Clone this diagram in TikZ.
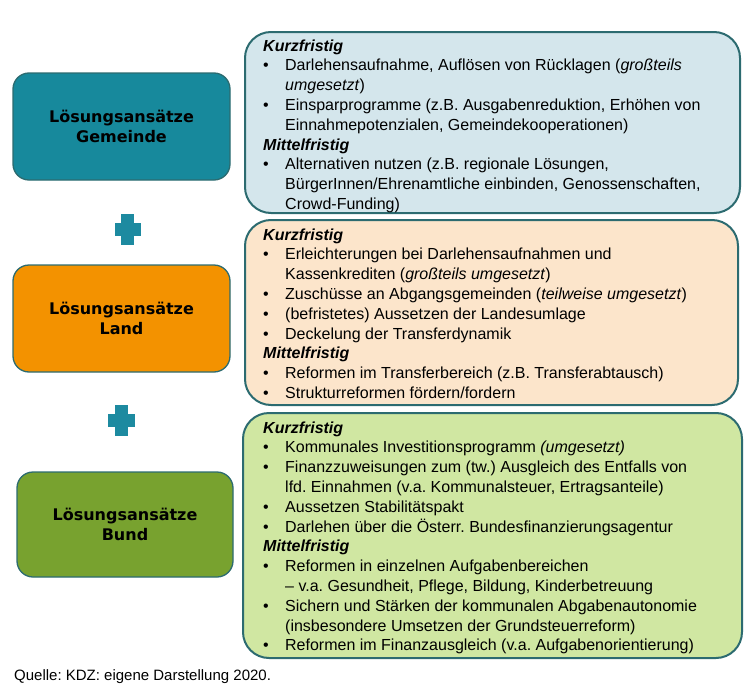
\documentclass[tikz,border=0pt]{standalone}
\usepackage{fontspec}
\setmainfont{Liberation Sans}
\newfontfamily\titlefont{DejaVu Sans}
\definecolor{gemeinde}{HTML}{17899C}
\definecolor{land}{HTML}{F39200}
\definecolor{bund}{HTML}{78A22F}
\definecolor{gemeindelight}{HTML}{D4E6EC}
\definecolor{landlight}{HTML}{FCE5CB}
\definecolor{bundlight}{HTML}{D0E7A2}
\definecolor{rim}{HTML}{2C6B70}
\definecolor{plusc}{HTML}{1D8AA0}
\newcommand{\hd}[1]{\textbf{\textit{#1}}}
\newcommand{\itm}[1]{\makebox[22pt][l]{•}#1}
\newcommand{\cnt}[1]{\hspace*{22pt}#1}
\begin{document}
\frenchspacing
\begin{tikzpicture}[x=1pt,y=-1pt,
    topic/.style={draw=rim, line width=1.3pt, rounded corners=16pt, inner sep=0pt,
      font=\titlefont\bfseries\fontsize{16}{19.5}\selectfont, align=center},
    panel/.style={draw=rim, line width=2pt, rounded corners=26pt, inner sep=0pt},
    list/.style={anchor=base west, inner sep=0pt, align=left,
      font=\fontsize{16}{19.8}\selectfont},
    bar/.style={fill=plusc, inner sep=0pt}]
  \useasboundingbox (0,0) rectangle (753,696);

  \node[topic, fill=gemeinde, minimum width=217pt, minimum height=107pt] (gem) at (121.5,126.5) {Lösungsansätze\\Gemeinde};
  \node[topic, fill=land, minimum width=217pt, minimum height=107pt] (lan) at (121.5,318.5) {Lösungsansätze\\Land};
  \node[topic, fill=bund, minimum width=216pt, minimum height=105pt] (bun) at (125,524.5) {Lösungsansätze\\Bund};

  \node[bar, minimum width=26pt, minimum height=13pt] (plusah) at (127.5,229) {};
  \node[bar, minimum width=13pt, minimum height=31pt] (plusav) at (127.5,229) {};
  \node[bar, minimum width=27pt, minimum height=13pt] (plusbh) at (121.5,420) {};
  \node[bar, minimum width=13pt, minimum height=31pt] (plusbv) at (121.5,420) {};

  \node[panel, fill=gemeindelight, minimum width=495pt, minimum height=181pt] (gemP) at (492.5,122.5) {};
  \node[panel, fill=landlight, minimum width=493pt, minimum height=185pt] (lanP) at (491.5,312.5) {};
  \node[panel, fill=bundlight, minimum width=499pt, minimum height=245pt] (bunP) at (492.5,535.5) {};

  % base of a list node is its last line
  \node[list] (gemL) at (263,209.4) {\hd{Kurzfristig}\\
    \itm{Darlehensaufnahme, Auflösen von Rücklagen (\textit{großteils}}\\
    \cnt{\textit{umgesetzt})}\\
    \itm{Einsparprogramme (z.B. Ausgabenreduktion, Erhöhen von}\\
    \cnt{Einnahmepotenzialen, Gemeindekooperationen)}\\
    \hd{Mittelfristig}\\
    \itm{Alternativen nutzen (z.B. regionale Lösungen,}\\
    \cnt{BürgerInnen/Ehrenamtliche einbinden, Genossenschaften,}\\
    \cnt{Crowd-Funding)}};
  \node[list] (lanL) at (263,398.4) {\hd{Kurzfristig}\\
    \itm{Erleichterungen bei Darlehensaufnahmen und}\\
    \cnt{Kassenkrediten (\textit{großteils umgesetzt})}\\
    \itm{Zuschüsse an Abgangsgemeinden (\textit{teilweise umgesetzt})}\\
    \itm{(befristetes) Aussetzen der Landesumlage}\\
    \itm{Deckelung der Transferdynamik}\\
    \hd{Mittelfristig}\\
    \itm{Reformen im Transferbereich (z.B. Transferabtausch)}\\
    \itm{Strukturreformen fördern/fordern}};
  \node[list] (bunL) at (263,650.8) {\hd{Kurzfristig}\\
    \itm{Kommunales Investitionsprogramm \textit{(umgesetzt)}}\\
    \itm{Finanzzuweisungen zum (tw.) Ausgleich des Entfalls von}\\
    \cnt{lfd. Einnahmen (v.a. Kommunalsteuer, Ertragsanteile)}\\
    \itm{Aussetzen Stabilitätspakt}\\
    \itm{Darlehen über die Österr. Bundesfinanzierungsagentur}\\
    \hd{Mittelfristig}\\
    \itm{Reformen in einzelnen Aufgabenbereichen}\\
    \cnt{– v.a. Gesundheit, Pflege, Bildung, Kinderbetreuung}\\
    \itm{Sichern und Stärken der kommunalen Abgabenautonomie}\\
    \cnt{(insbesondere Umsetzen der Grundsteuerreform)}\\
    \itm{Reformen im Finanzausgleich (v.a. Aufgabenorientierung)}};

  \node[anchor=base west, inner sep=0pt, font=\fontsize{15}{18}\selectfont] (src) at (14,680) {Quelle: KDZ: eigene Darstellung 2020.};
\end{tikzpicture}
\end{document}
